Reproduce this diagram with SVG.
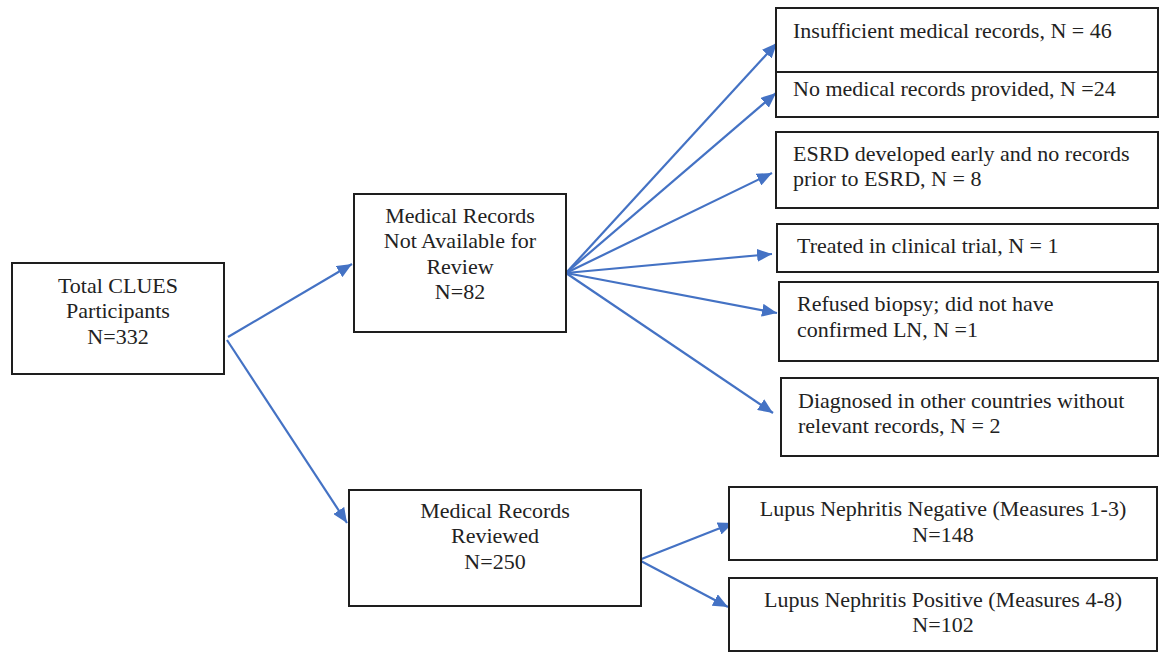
<svg xmlns="http://www.w3.org/2000/svg" width="1160" height="652" viewBox="0 0 1160 652">
<style>
.box{fill:#fff;stroke:#1e1e1e;stroke-width:2}
.t{font-family:"Liberation Serif","Times New Roman",serif;font-size:22px;fill:#222}
.c{text-anchor:middle}
.arr{stroke:#4472C4;stroke-width:2.2;fill:none;marker-end:url(#ah)}
</style>
<defs>
<marker id="ah" markerUnits="userSpaceOnUse" markerWidth="16" markerHeight="13" refX="15" refY="6.5" orient="auto">
<path d="M0,0 L15,6.5 L0,13 Z" fill="#4472C4"/>
</marker>
</defs>
<rect width="1160" height="652" fill="#fff"/>
<g id="connectors">
<line class="arr" x1="228" y1="337" x2="352" y2="264"/>
<line class="arr" x1="227" y1="340" x2="347" y2="523"/>
<line class="arr" x1="566" y1="273" x2="777" y2="43"/>
<line class="arr" x1="566" y1="273" x2="776" y2="93"/>
<line class="arr" x1="566" y1="273" x2="772" y2="173"/>
<line class="arr" x1="566" y1="273" x2="772" y2="254"/>
<line class="arr" x1="566" y1="273" x2="777" y2="313"/>
<line class="arr" x1="566" y1="273" x2="773" y2="413"/>
<line class="arr" x1="639" y1="560" x2="733" y2="523"/>
<line class="arr" x1="639" y1="560" x2="728" y2="607"/>
</g>
<g id="total">
<rect class="box" x="12" y="263" width="212" height="111"/>
<text class="t c" x="118" y="293">Total CLUES</text>
<text class="t c" x="118" y="318">Participants</text>
<text class="t c" x="118" y="344">N=332</text>
</g>
<g id="not-available">
<rect class="box" x="354" y="194" width="212" height="138"/>
<text class="t c" x="460" y="223">Medical Records</text>
<text class="t c" x="460" y="248">Not Available for</text>
<text class="t c" x="460" y="274">Review</text>
<text class="t c" x="460" y="299">N=82</text>
</g>
<g id="reviewed">
<rect class="box" x="349" y="490" width="292" height="116"/>
<text class="t c" x="495" y="518">Medical Records</text>
<text class="t c" x="495" y="543">Reviewed</text>
<text class="t c" x="495" y="569">N=250</text>
</g>
<g id="insufficient">
<rect class="box" x="776" y="8" width="382" height="64"/>
<text class="t" x="793" y="38">Insufficient medical records, N = 46</text>
</g>
<g id="no-records">
<rect class="box" x="776" y="72" width="382" height="45"/>
<text class="t" x="793" y="96">No medical records provided, N =24</text>
</g>
<g id="esrd">
<rect class="box" x="776" y="132" width="382" height="76"/>
<text class="t" x="793" y="161">ESRD developed early and no records</text>
<text class="t" x="793" y="186">prior to ESRD, N = 8</text>
</g>
<g id="trial">
<rect class="box" x="777" y="224" width="381" height="48"/>
<text class="t" x="797" y="253">Treated in clinical trial, N = 1</text>
</g>
<g id="refused">
<rect class="box" x="779" y="282" width="379" height="79"/>
<text class="t" x="797" y="311">Refused biopsy; did not have</text>
<text class="t" x="797" y="337">confirmed LN, N =1</text>
</g>
<g id="other-countries">
<rect class="box" x="781" y="378" width="377" height="78"/>
<text class="t" x="798" y="408">Diagnosed in other countries without</text>
<text class="t" x="798" y="433">relevant records, N = 2</text>
</g>
<g id="ln-negative">
<rect class="box" x="729" y="487" width="428" height="73"/>
<text class="t c" x="943" y="516">Lupus Nephritis Negative (Measures 1-3)</text>
<text class="t c" x="943" y="542">N=148</text>
</g>
<g id="ln-positive">
<rect class="box" x="729" y="578" width="428" height="73"/>
<text class="t c" x="943" y="607">Lupus Nephritis Positive (Measures 4-8)</text>
<text class="t c" x="943" y="632">N=102</text>
</g>
</svg>
